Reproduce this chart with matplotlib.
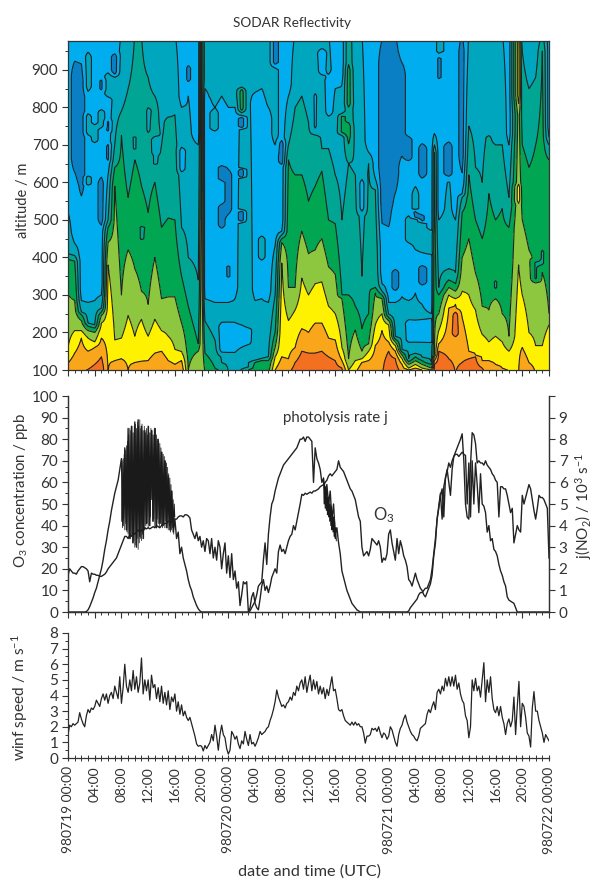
import numpy as np
import matplotlib
matplotlib.use('Agg')
import matplotlib.pyplot as plt
from matplotlib.ticker import MultipleLocator

plt.rcParams['font.family'] = ['Lato', 'DejaVu Sans']
plt.rcParams['mathtext.default'] = 'regular'
plt.rcParams['text.color'] = '#333333'
plt.rcParams['axes.labelcolor'] = '#333333'

# SODAR: top altitude of every colour class per hour (h0 .. h72), 90 = absent, 1000 = past the top
top_red = [90, 90, 90, 102, 115, 135, 90, 90, 90, 90, 90, 90,
           90, 90, 90, 90, 90, 90, 90, 90, 90, 90, 90, 90,
           90, 90, 90, 90, 90, 90, 90, 90, 90, 90, 120, 150,
           145, 145, 150, 135, 125, 105, 90, 90, 90, 90, 90, 90,
           150, 130, 90, 90, 90, 90, 90, 115, 150, 130, 90, 120,
           130, 135, 105, 90, 90, 90, 90, 90, 90, 90, 90, 90,
           90]
top_orange = [118, 145, 185, 150, 160, 185, 95, 125, 130, 100, 120, 122,
              125, 145, 150, 125, 115, 125, 95, 90, 90, 90, 90, 90,
              90, 90, 90, 90, 90, 90, 90, 100, 135, 130, 160, 210,
              200, 225, 225, 185, 180, 125, 90, 90, 120, 125, 165, 205,
              175, 150, 115, 100, 105, 100, 98, 125, 170, 265, 275, 240,
              150, 140, 125, 125, 115, 105, 95, 90, 160, 120, 90, 90,
              90]
top_yellow = [160, 205, 205, 185, 175, 225, 380, 180, 185, 245, 190, 235,
              190, 235, 205, 190, 155, 148, 90, 90, 90, 90, 90, 90,
              90, 90, 90, 90, 90, 90, 90, 135, 385, 232, 260, 345,
              300, 330, 335, 270, 250, 160, 100, 125, 130, 150, 220, 250,
              220, 165, 130, 105, 115, 105, 100, 135, 205, 300, 290, 310,
              300, 260, 195, 175, 190, 175, 150, 380, 300, 200, 165, 165,
              220]
top_yellowgreen = [300, 285, 232, 205, 200, 245, 440, 590, 300, 420, 370, 310,
                   275, 400, 290, 295, 295, 225, 100, 150, 1000, 95, 90, 90,
                   90, 90, 90, 90, 90, 90, 90, 160, 440, 320, 320, 470,
                   410, 420, 450, 375, 355, 290, 130, 207, 150, 170, 305, 290,
                   232, 175, 140, 115, 125, 115, 105, 140, 250, 320, 310, 400,
                   450, 358, 270, 260, 290, 250, 190, 1000, 500, 420, 370, 360,
                   250]
top_green = [395, 390, 248, 217, 212, 255, 480, 640, 725, 560, 660, 590,
             520, 600, 480, 505, 500, 350, 270, 170, 1000, 145, 105, 90,
             90, 90, 90, 100, 120, 125, 125, 200, 450, 660, 620, 620,
             550, 590, 630, 500, 490, 300, 300, 270, 210, 250, 320, 300,
             240, 182, 148, 122, 135, 125, 115, 680, 300, 340, 330, 520,
             620, 500, 450, 570, 500, 530, 480, 1000, 700, 640, 700, 950,
             660]
top_tealgreen = [410, 405, 255, 225, 220, 265, 500, 700, 790, 850, 1000, 1000,
                 880, 830, 700, 850, 780, 480, 400, 340, 1000, 230, 180, 120,
                 95, 95, 100, 105, 125, 130, 135, 300, 460, 700, 800, 830,
                 760, 790, 690, 690, 620, 500, 650, 620, 350, 650, 580, 310,
                 248, 190, 155, 130, 142, 132, 120, 700, 320, 370, 360, 560,
                 750, 640, 600, 760, 700, 700, 560, 1000, 950, 850, 880, 1000,
                 700]
top_teal = [520, 437, 285, 280, 285, 300, 620, 880, 1000, 1000, 1000, 1000,
            1000, 1000, 1000, 1000, 1000, 800, 830, 700, 1000, 290, 280, 280,
            280, 290, 1000, 1000, 285, 290, 280, 430, 470, 830, 1000, 1000,
            1000, 1000, 1000, 1000, 850, 860, 1000, 1000, 1000, 680, 610, 330,
            280, 280, 295, 285, 305, 275, 250, 730, 500, 620, 500, 570,
            1000, 1000, 1000, 1000, 1000, 1000, 700, 1000, 1000, 1000, 1000, 1000,
            720]

# teal hanging down from the top of the profile
hanging_cols = [21, 22, 23, 24, 25, 28, 29, 30, 31, 56]
hanging_alts = [850, 800, 830, 800, 800, 840, 850, 800, 700, 860]

# closed patches: hour column, lower and upper altitude, colour class (fractions make thin slivers)
patch_col = [1, 2, 5, 7, 23, 23, 24, 32, 31, 26, 26, 26, 47, 48, 49, 50, 59, 53, 57, 51, 49, 53,
             23, 24, 25, 26, 27, 51, 52, 53, 54, 58,
             29, 51, 52, 53, 54, 44, 22, 3, 3, 3, 4, 5, 6, 26, 39, 42, 67, 67, 64, 38, 13, 17,
             5, 6, 6, 10, 13, 11, 12, 15, 14, 18, 52, 53, 42, 42, 62, 63, 70, 71, 64, 24, 27, 37, 56, 41]
patch_low = [590, 520, 470, 880, 470, 600, 500, 640, 900, 740, 610, 490, 430, 420, 520, 640, 580, 600, 600, 650, 305, 320,
             135, 135, 135, 150, 160, 165, 165, 165, 165, 180,
             385, 430, 400, 400, 400, 510, 730, 590, 830, 720, 700, 740, 820, 780, 760, 650, 780, 540, 700, 880, 650, 620,
             840, 730, 650, 680, 640, 440, 720, 760, 740, 860, 500, 490, 900, 750, 870, 720, 330, 370, 310, 340, 860, 720, 860, 720]
patch_high = [960, 960, 630, 950, 550, 650, 650, 720, 1000, 780, 640, 530, 1040, 1040, 1040, 950, 1040, 715, 720, 730, 375, 385,
              235, 235, 235, 230, 220, 240, 240, 240, 240, 265,
              465, 520, 610, 530, 480, 620, 800, 620, 960, 790, 760, 800, 900, 860, 900, 1030, 1040, 600, 800, 960, 730, 700,
              880, 770, 710, 730, 680, 490, 810, 880, 960, 920, 530, 520, 990, 810, 960, 860, 400, 430, 345, 385, 930, 860, 950, 790]
patch_class = [0, 0, 0, 0, 0, 0, 0, 0, 0, 0, 0, 0, 0, 0, 0, 0, 0, 0, 0, 0, 0, 0,
               1, 1, 1, 1, 1, 1, 1, 1, 1, 8,
               2, 2, 2, 2, 2, 1, 2, 2, 2, 2, 2, 2, 2, 4, 1, 4, 6, 6, 2, 1, 2, 1,
               .35, .35, .35, 2.35, 2.35, 3.35, 2.35, 2.35, 2.35, .35, .35, .35, 3.35, 3.35, 1.65, 1.65, 3.35, 3.35, 3.35, .35, 1.65, 1.35, .35, 3.65]

class_colors = ['#0a7fc4', '#00aeef', '#00a6bd', '#00a693', '#00a651',
                '#8dc63f', '#fff200', '#faa61a', '#f37021']

# 15 minute samples, one row per two hours
o3_ppb = [
    17, 20, 19, 18, 18, 17.5, 19, 20, 21, 21, 20.5, 20, 19, 14, 18, 17.5,
    17.5, 17, 17, 16.5, 16.5, 17, 17.5, 18.5, 20, 21, 22, 23, 24, 25, 27, 29,
    31, 33, 35, 35, 34, 36, 35, 37, 36, 37, 38, 37, 38, 37.5, 39, 38.5,
    39, 38.5, 39, 39.5, 39, 40, 39.5, 39, 40, 40.5, 41, 41, 42, 42, 41.5, 43,
    43, 43, 44, 44.5, 44.5, 44, 45, 45, 44.5, 43.5, 38, 36, 34, 37, 33, 35,
    30, 33, 28, 34, 33, 27, 34, 25, 30, 24, 33, 30, 20, 27, 32, 18,
    26, 16, 27, 15, 19, 11, 14, 3, 8, 14, 13, 14, 0, 2, 7, 9,
    4, 2, 1, 6, 12, 15, 10, 12, 9, 12, 16, 18, 20, 18, 28, 31,
    28, 29, 27, 30, 33, 35, 36, 40, 38, 42, 46, 50, 54.5, 54, 55, 54.5,
    55, 55.5, 55, 56, 56, 56.5, 57, 58, 58.5, 59, 60, 61, 63, 64, 63, 64,
    65, 66, 70, 67, 66, 65, 63, 61, 59, 57, 56, 54, 52, 48, 44, 42,
    30, 26, 27, 28, 26, 29, 34, 33, 32, 31, 33, 30, 23, 25, 24, 27,
    36, 38, 32, 28, 24, 34, 27, 33, 30, 26, 24, 21, 15, 14, 12, 15,
    18, 15, 13, 11, 10, 8, 7, 9, 11, 13, 17, 26, 32, 43, 49, 55,
    43, 58, 62, 66, 60, 54, 66, 72, 74, 76, 78, 80, 82.5, 70, 50, 44,
    43, 68, 83, 82, 78, 69, 70, 69, 69, 68, 70, 68, 67, 66, 64, 63,
    61, 60, 44, 58, 58, 57, 57, 54, 50, 46, 48, 32, 36, 40, 38, 37,
    54, 50, 53, 56, 59, 57, 52, 47, 43, 48, 54, 53, 53, 52, 50, 48,
    25]
j_no2 = [
    0, 0, 0, 0, 0, 0, 0, 0, 0, 0, 0, 0.02,
    .1, .25, .45, .65, .9, 1.1, 1.4, 1.7, 2.0, 2.4, 2.9, 3.3,
    3.8, 4.2, 4.7, 5.1, 5.5, 5.8, 6.1, 6.6,
    7.1, 4.0, 7.6, 3.8, 8.5, 3.4, 8.6, 3.2, 8.8, 3.0, 8.9, 3.5, 8.6, 3.4, 8.4, 4.1,
    8.6, 4.0, 8.4, 4.2, 8.5, 3.9, 8.0, 4.1, 7.4, 4.0, 7.0, 3.9, 6.3, 3.8, 5.6, 3.7,
    4.3, 3.4, 3.7, 2.7, 3.0, 2.5, 2.2, 1.9, 1.5, 1.2, 1.0, .7, .5, .3, .15, .05,
    0, 0, 0, 0, 0, 0, 0, 0, 0, 0, 0, 0, 0, 0, 0, 0, 0, 0, 0, 0, 0, 0, 0, 0, 0, 0, 0, 0,
    0, .05, .2, .35, .5, .8, 1.2, 1.3, 1.4, 2.4, 3.2, 2.2, 3.6, 4.4, 5.0, 5.2,
    5.6, 5.9, 6.2, 6.4, 6.6, 6.8, 6.9, 7.0, 7.1, 7.2, 7.3, 7.4, 7.5, 7.6, 7.8, 8.0,
    8.0, 8.1, 7.9, 8.1, 8.1, 8.0, 7.9, 6.0, 7.6, 7.1, 6.9, 6.6, 6.0, 6.2, 5.4, 5.9,
    5.0, 5.6, 4.3, 5.0, 3.6, 3.9, 3.2, 2.7, 1.9, 1.6, 1.3, 1.0, .8, .6, .4, .3,
    .2, .1, .05, 0,
    0, 0, 0, 0, 0, 0, 0, 0, 0, 0, 0, 0, 0, 0, 0, 0, 0, 0, 0, 0, 0, 0, 0, 0, 0, 0, 0, 0,
    .05, .2, .3, .4, .5, .6, .8, .9, .9, 1.0, 1.1, 1.1, 1.3, 1.5, 2.0, 2.7,
    3.4, 4.3, 4.8, 5.4, 5.7, 4.4, 6.2, 6.5, 6.9, 6.7, 7.0, 7.2, 7.3, 7.3, 7.2, 7.3,
    7.4, 7.3, 7.25, 5.0, 6.9, 4.4, 7.0, 5.0, 6.9, 5.9, 4.6, 6.4, 5.0, 4.9, 4.6, 3.7,
    4.0, 3.3, 3.4, 2.9, 2.8, 2.6, 2.2, 1.9, 1.7, 1.4, 1.2, .7, .55, .5, .45, .4,
    .2, 0, 0, 0,
    0, 0, 0, 0, 0, 0, 0, 0, 0, 0, 0, 0, 0, 0, 0, 0,
    0]
# 5 minute samples of the two bursts in j: 08:00-16:00 on the first day, 14:15-16:10 on the second
j_burst_day1 = [
    4.2, 7.0, 3.9, 7.1, 4.3, 7.3, 3.8, 7.5, 4.1, 7.7, 3.7, 7.9,
    3.6, 8.2, 3.5, 8.5, 3.4, 8.4, 3.6, 8.6, 3.2, 8.3, 3.3, 8.6,
    3.0, 8.7, 3.1, 8.5, 3.4, 8.8, 2.9, 8.6, 3.2, 8.9, 3.4, 8.5,
    3.3, 8.7, 3.6, 8.4, 3.4, 8.6, 3.8, 8.3, 4.0, 8.5, 4.1, 8.2,
    3.9, 8.6, 4.0, 8.3, 4.4, 8.5, 5.2, 8.4, 4.2, 8.2, 4.3, 8.5,
    3.9, 8.5, 4.0, 8.2, 4.3, 8.0, 4.1, 7.9, 3.9, 7.8, 4.1, 7.6,
    4.0, 7.4, 3.9, 7.3, 4.1, 7.2, 3.9, 7.0, 4.2, 6.9, 3.9, 6.7,
    3.8, 6.4, 4.0, 6.2, 3.7, 5.9, 3.8, 5.6, 3.9, 5.2, 3.6, 5.0,
    4.4]
j_burst_day2 = [6.2, 5.0, 6.0, 4.8, 5.8, 4.7, 5.6, 4.5, 5.3, 4.4, 5.2, 4.2,
                5.0, 4.0, 4.9, 3.8, 4.6, 3.7, 4.4, 3.5, 4.2, 3.4, 3.9, 3.3]
wind_speed = [
    1.5, 2.1, 2.0, 2.2, 2.1, 2.2, 2.3, 2.9, 2.5, 2.2, 2.0, 2.7, 3.1, 2.9, 3.2, 3.1,
    3.3, 3.7, 3.5, 3.3, 3.8, 4.1, 3.7, 4.1, 3.5, 4.0, 4.2, 3.8, 4.6, 4.2, 3.8, 5.2,
    3.5, 4.5, 6.0, 4.6, 4.2, 5.0, 4.3, 5.6, 4.4, 5.2, 4.2, 4.8, 6.4, 4.1, 5.0, 4.3,
    5.0, 3.7, 5.3, 4.5, 4.7, 3.8, 4.5, 3.6, 4.6, 3.5, 4.2, 3.4, 4.3, 3.1, 3.9, 3.6,
    4.1, 3.0, 3.6, 2.8, 3.4, 2.7, 3.0, 2.6, 2.4, 2.6, 2.2, 1.8, 1.4, .9, .75, .8,
    .75, .45, .8, .6, .8, 1.0, 1.5, 1.1, 2.1, 1.4, .5, 1.5, 2.1, 1.5, 1.3, .6,
    .25, .5, 1.7, 1.5, 1.2, 1.4, .9, .6, 1.1, .9, 1.7, 1.2, .8, 1.5, .9, 1.0,
    .75, 1.0, 1.3, 1.7, 1.5, 1.6, 1.7, 1.9, 2.0, 2.4, 2.7, 3.1, 3.6, 4.35, 3.9, 3.6,
    3.3, 3.4, 3.2, 3.5, 3.6, 3.9, 3.7, 4.2, 4.0, 4.6, 4.3, 4.8, 5.0, 4.4, 5.2, 4.2,
    4.8, 5.3, 4.3, 5.0, 4.4, 4.9, 4.1, 4.6, 4.1, 4.5, 3.8, 4.4, 4.0, 4.6, 5.2, 4.3,
    4.4, 3.8, 3.1, 3.0, 3.1, 2.7, 2.4, 2.3, 2.2, 2.1, 2.3, 2.1, 2.3, 2.1, 2.2, 2.0,
    2.0, 1.6, .95, 1.4, 1.4, 1.5, 1.9, 1.8, 1.9, 1.7, 2.0, 1.6, 1.3, 1.6, 1.5, 1.2,
    1.4, 2.0, 1.8, 1.4, 1.0, .75, 1.5, 1.9, 2.1, 2.5, 2.75, 2.3, 2.0, 1.7, 1.5, 1.4,
    1.2, 1.1, 1.4, 1.9, 2.0, 2.1, 2.2, 2.8, 3.1, 2.9, 3.3, 3.6, 3.1, 4.2, 4.4, 4.1,
    4.6, 4.3, 5.1, 4.6, 5.2, 4.6, 5.2, 4.6, 5.3, 4.4, 4.8, 4.1, 3.7, 3.5, 2.7, 2.4,
    1.3, 2.0, 5.0, 4.3, 5.1, 4.3, 4.6, 3.9, 5.0, 6.1, 3.6, 5.0, 4.2, 5.2, 3.8, 3.1,
    2.9, 3.3, 2.7, 3.3, 2.6, 2.2, 1.5, 2.2, 2.5, 2.0, 2.4, 3.9, 1.5, 3.3, 4.9, 2.0,
    3.5, 3.3, 2.6, 1.6, 1.4, .7, 3.2, 4.25, 3.0, 3.0, 2.4, 2.0, 1.6, 1.0, 1.5, 1.3,
    1.1]

tick_hours = list(range(0, 73, 4))
tick_labels = ['980719 00:00', '04:00', '08:00', '12:00', '16:00', '20:00',
               '980720 00:00', '04:00', '08:00', '12:00', '16:00', '20:00',
               '980721 00:00', '04:00', '08:00', '12:00', '16:00', '20:00',
               '980722 00:00']


def panel(fig, left, top, right, bottom):
    W, H = 593.0, 882.0
    return fig.add_axes([left / W, 1 - bottom / H, (right - left) / W, (bottom - top) / H])


def sodar_field():
    alts = np.arange(100.0, 985.0, 5.0)
    z = np.zeros((len(alts), 73))
    hanging = dict(zip(hanging_cols, hanging_alts))
    for c in range(73):
        tops = [top_red[c], top_orange[c], top_yellow[c], top_yellowgreen[c],
                top_green[c], top_tealgreen[c], top_teal[c]]
        tops = np.maximum.accumulate(tops) + 0.01 * np.arange(7)
        hs = np.concatenate([[tops[0] - 30], tops, [tops[-1] + 30]])
        vals = [8.0, 7.5, 6.5, 5.5, 4.5, 3.5, 2.5, 1.5, 1.0]
        col = np.interp(alts, hs, vals)
        if c in hanging:
            h = hanging[c]
            col = np.maximum(col, np.interp(alts, [h - 30, h, h + 30], [1.0, 1.5, 2.0]))
        z[:, c] = col
    # closed patches with a pointed upper and lower end
    for c, lo, hi, k in zip(patch_col, patch_low, patch_high, patch_class):
        mid, half = (lo + hi) / 2.0, (hi - lo) / 2.0
        w = np.clip(2.5 * (1 - np.abs(alts - mid) / half), 0, 1)
        z[:, c] = z[:, c] + w * (k - z[:, c])
    return alts, z


fig = plt.figure(figsize=(5.93, 8.82), dpi=100)

# --- reflectivity
ax1 = panel(fig, 68, 41, 549, 370)
alts, z = sodar_field()
col_hours = np.arange(73.0)
col_hours[[19, 21]] = [19.5, 20.5]
col_hours[[54, 55, 56]] = [54.4, 54.85, 55.5]
col_hours[67] = 67.45
bounds = [-1, .5, 1.5, 2.5, 3.5, 4.5, 5.5, 6.5, 7.5, 10]
ax1.contourf(col_hours, alts, z, levels=bounds, colors=class_colors)
ax1.contour(col_hours, alts, z, levels=bounds[1:-1], colors='#222222', linewidths=0.8)
ax1.set_ylim(100, 977)
ax1.yaxis.set_major_locator(MultipleLocator(100))
ax1.yaxis.set_minor_locator(MultipleLocator(50))
ax1.set_ylabel('altitude / m', fontsize=10.5)
ax1.yaxis.set_label_coords((30 - 68) / 481.0, 0.515)
fig.text(292 / 593.0, 1 - 23 / 882.0, 'SODAR Reflectivity', fontsize=9.8, ha='center', va='center')

# --- ozone and photolysis
ax2 = panel(fig, 68, 396, 549, 612)
t_o3 = np.linspace(0, 72, len(o3_ppb))
t_j = np.linspace(0, 72, len(j_no2))
ax2.plot(t_o3, o3_ppb, color='#222222', lw=1.0)
ax2.set_ylim(0, 100)
ax2.yaxis.set_major_locator(MultipleLocator(10))
ax2.yaxis.set_minor_locator(MultipleLocator(5))
ax2.set_ylabel('O$_3$ concentration / ppb', fontsize=10.8)
ax2.yaxis.set_label_coords((30 - 68) / 481.0, 0.565)
ax2.spines['top'].set_visible(False)
ax2.text(40.0, 90, 'photolysis rate j', fontsize=10.8, ha='center', va='center')
ax2.text(47.2, 45, 'O$_3$', fontsize=12, ha='center', va='center')

ax2r = ax2.twinx()
ax2r.plot(t_j, j_no2, color='#222222', lw=1.0)
ax2r.plot(8 + np.arange(len(j_burst_day1)) / 12.0, j_burst_day1, color='#1a1a1a', lw=0.55)
ax2r.plot(38.25 + np.arange(len(j_burst_day2)) / 12.0, j_burst_day2, color='#1a1a1a', lw=0.7)
ax2r.set_ylim(0, 10)
ax2r.set_yticks(range(0, 11))
ax2r.set_yticklabels(['0', '1', '2', '3', '4', '5', '6', '7', '8', '9', ''])
ax2r.set_ylabel('j(NO$_2$) / 10$^3$ s$^{-1}$', fontsize=11)
ax2r.yaxis.set_label_coords((573 - 68) / 481.0, 0.49)
ax2r.spines['top'].set_visible(False)
ax2r.tick_params(axis='y', labelsize=11, length=4, width=0.8, color='#333333', labelcolor='#333333', pad=3)

# --- wind
ax3 = panel(fig, 68, 633, 549, 758)
t_w = np.linspace(0, 72, len(wind_speed))
ax3.plot(t_w, wind_speed, color='#222222', lw=0.9)
ax3.set_ylim(0, 8)
ax3.yaxis.set_major_locator(MultipleLocator(1))
ax3.yaxis.set_minor_locator(MultipleLocator(0.5))
ax3.set_ylabel('winf speed / m s$^{-1}$', fontsize=11.2)
ax3.yaxis.set_label_coords((30 - 68) / 481.0, 0.48)
ax3.spines['top'].set_visible(False)
ax3.spines['right'].set_visible(False)
ax3.set_xlabel('date and time (UTC)', fontsize=11.7)
ax3.xaxis.set_label_coords((309 - 68) / 481.0, -(864 - 758) / 125.0, ax3.transAxes)

for ax in (ax1, ax2, ax3):
    ax.set_xlim(0, 72)
    ax.xaxis.set_major_locator(MultipleLocator(4))
    ax.xaxis.set_minor_locator(MultipleLocator(1))
    ax.tick_params(axis='y', which='major', labelsize=11, length=4, width=0.8,
                   color='#333333', labelcolor='#333333', pad=3)
    ax.tick_params(axis='y', which='minor', length=2, width=0.7, color='#333333')
    ax.tick_params(axis='x', which='major', length=4, width=0.8, color='#333333', labelbottom=False)
    ax.tick_params(axis='x', which='minor', length=2, width=0.7, color='#333333')
    for s in ax.spines.values():
        s.set_linewidth(0.9)
        s.set_color('#333333')
for s in ax2r.spines.values():
    s.set_linewidth(0.9)
    s.set_color('#333333')

ax3.tick_params(axis='x', which='both', direction='inout', length=4)
ax3.set_xticks(tick_hours)
ax3.set_xticklabels(tick_labels, rotation=90, ha='center', va='top', fontsize=10,
                    color='#333333')
ax3.tick_params(axis='x', which='major', labelbottom=True, pad=4)

fig.savefig('out.png', dpi=100)
plt.close(fig)
